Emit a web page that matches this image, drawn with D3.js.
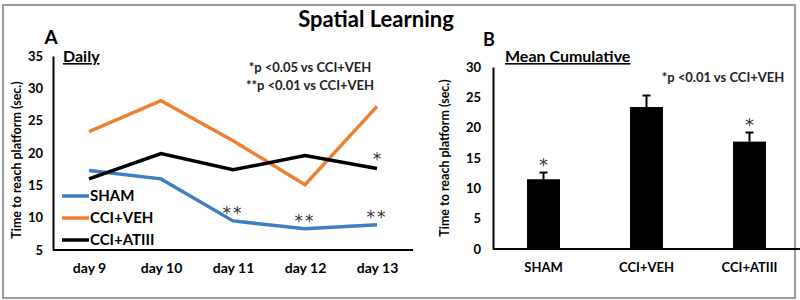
<!DOCTYPE html>
<html>
<head>
<meta charset="utf-8">
<script src="https://cdn.jsdelivr.net/npm/d3@7"></script>
<style>
  body { margin: 0; background: #fff; }
  svg { font-family: Lato, 'Open Sans', sans-serif; }
</style>
</head>
<body>
<div class="chart"></div>
<script>
var W = 800;
var H = 300;

// panel A: daily
var days = ['day 9', 'day 10', 'day 11', 'day 12', 'day 13'];
var groups = ['SHAM', 'CCI+VEH', 'CCI+ATIII'];
var shamDaily = [17.3, 16.0, 9.5, 8.3, 8.9];
var vehDaily = [23.3, 28.1, 21.9, 15.1, 27.2];
var atiiiDaily = [16.0, 19.9, 17.4, 19.6, 17.6];
var dailyTicks = [5, 10, 15, 20, 25, 30, 35];
var dailyMarks = ['', '', '**', '**', '**'];
var atiiiMarks = ['', '', '', '', '*'];

// panel B: mean cumulative
var meanValues = [11.5, 23.4, 17.7];
var meanErrors = [1.1, 1.9, 1.5];
var meanMarks = ['*', '', '*'];
var meanTicks = [0, 5, 10, 15, 20, 25, 30];

var lineColors = ['#3f7fc1', '#ef7f31', '#000000'];
var starFont = "'DejaVu Sans', sans-serif";

var svg = d3.select('.chart').append('svg').attr('width', W).attr('height', H);

// frame
svg.append('rect')
  .attr('x', 3).attr('y', 5).attr('width', 792).attr('height', 293)
  .attr('fill', 'none').attr('stroke', '#9a9a9a').attr('stroke-width', 2);

svg.append('text')
  .attr('x', 376).attr('y', 27)
  .attr('text-anchor', 'middle')
  .attr('font-size', 22).attr('font-weight', 'bold')
  .text('Spatial Learning');

/* ===== PANEL A ===== */

var xA = d3.scalePoint().domain(days).range([53, 413]).padding(0.5);
var yA = d3.scaleLinear().domain([5, 35]).range([250, 56]);

var gA = svg.append('g');

gA.append('g')
  .attr('transform', 'translate(53,0)')
  .call(d3.axisLeft(yA).tickValues(dailyTicks).tickSize(0).tickPadding(10))
  .call(function (g) {
    g.select('.domain').attr('stroke', '#000').attr('stroke-width', 2);
    g.selectAll('text').attr('font-size', 13).attr('font-weight', 'bold').attr('font-family', 'Lato');
  });

gA.append('g')
  .attr('transform', 'translate(0,250)')
  .call(d3.axisBottom(xA).tickSize(0).tickPadding(13))
  .call(function (g) {
    g.select('.domain').attr('d', 'M53,0H413').attr('stroke', '#000').attr('stroke-width', 2);
    g.selectAll('text').attr('font-size', 14).attr('font-weight', 'bold').attr('font-family', 'Lato');
  });

var series = [shamDaily, vehDaily, atiiiDaily];
var line = d3.line()
  .x(function (d, i) { return xA(days[i]); })
  .y(function (d) { return yA(d); });

series.forEach(function (s, k) {
  gA.append('path')
    .datum(s)
    .attr('d', line)
    .attr('fill', 'none')
    .attr('stroke', lineColors[k])
    .attr('stroke-width', 3.5);
});

gA.selectAll('text.markSham')
  .data(dailyMarks)
  .enter()
  .append('text')
  .attr('class', 'markSham')
  .attr('x', function (d, i) { return xA(days[i]); })
  .attr('y', function (d, i) { return yA(shamDaily[i]) - 2; })
  .attr('text-anchor', 'middle')
  .attr('font-family', starFont)
  .attr('font-size', 17).attr('letter-spacing', 2).attr('fill', '#333')
  .text(function (d) { return d; });

gA.selectAll('text.markAtiii')
  .data(atiiiMarks)
  .enter()
  .append('text')
  .attr('class', 'markAtiii')
  .attr('x', function (d, i) { return xA(days[i]); })
  .attr('y', function (d, i) { return yA(atiiiDaily[i]) - 4; })
  .attr('text-anchor', 'middle')
  .attr('font-family', starFont)
  .attr('font-size', 17).attr('fill', '#333')
  .text(function (d) { return d; });

// legend
var legend = gA.selectAll('g.legend')
  .data(groups)
  .enter()
  .append('g')
  .attr('class', 'legend')
  .attr('transform', function (d, i) { return 'translate(62,' + (196 + i * 22) + ')'; });

legend.append('line')
  .attr('x1', 0).attr('x2', 27)
  .attr('stroke', function (d, i) { return lineColors[i]; })
  .attr('stroke-width', 3.5);

legend.append('text')
  .attr('x', 28).attr('y', 5)
  .attr('font-size', 15).attr('font-weight', 'bold')
  .text(function (d) { return d; });

gA.append('text')
  .attr('x', 51).attr('y', 44)
  .attr('text-anchor', 'middle')
  .attr('font-size', 19).attr('font-weight', 'bold')
  .text('A');

gA.append('text')
  .attr('x', 63).attr('y', 62)
  .attr('font-size', 16).attr('font-weight', 'bold')
  .attr('text-decoration', 'underline')
  .text('Daily');

gA.append('text')
  .attr('x', 310).attr('y', 72)
  .attr('text-anchor', 'middle')
  .attr('font-size', 13).attr('font-weight', 'bold').attr('fill', '#222')
  .text('*p <0.05 vs CCI+VEH');

gA.append('text')
  .attr('x', 310).attr('y', 90)
  .attr('text-anchor', 'middle')
  .attr('font-size', 13).attr('font-weight', 'bold').attr('fill', '#222')
  .text('**p <0.01 vs CCI+VEH');

gA.append('text')
  .attr('transform', 'translate(21,160) rotate(-90)')
  .attr('text-anchor', 'middle')
  .attr('font-size', 12.5).attr('font-weight', 'bold')
  .text('Time to reach platform (sec.)');

/* ===== PANEL B ===== */

var xB = d3.scaleBand().domain(groups).range([492, 801]).paddingInner(0.68).paddingOuter(0.34);
var yB = d3.scaleLinear().domain([0, 30]).range([249, 67]);

var gB = svg.append('g');

gB.append('g')
  .attr('transform', 'translate(493,0)')
  .call(d3.axisLeft(yB).tickValues(meanTicks).tickSize(0).tickPadding(12))
  .call(function (g) {
    g.select('.domain').attr('stroke', '#000').attr('stroke-width', 2);
    g.selectAll('text').attr('font-size', 13).attr('font-weight', 'bold').attr('font-family', 'Lato');
  });

gB.append('g')
  .attr('transform', 'translate(0,249)')
  .call(d3.axisBottom(xB).tickSize(0).tickPadding(14))
  .call(function (g) {
    g.select('.domain').attr('d', 'M493,0H800').attr('stroke', '#000').attr('stroke-width', 2);
    g.selectAll('text').attr('font-size', 13).attr('font-weight', 'bold').attr('font-family', 'Lato');
  });

var bars = gB.selectAll('g.bar')
  .data(meanValues)
  .enter()
  .append('g')
  .attr('class', 'bar');

bars.append('rect')
  .attr('x', function (d, i) { return xB(groups[i]); })
  .attr('y', function (d) { return yB(d); })
  .attr('width', xB.bandwidth())
  .attr('height', function (d) { return yB(0) - yB(d); })
  .attr('fill', '#000');

bars.append('line')
  .attr('x1', function (d, i) { return xB(groups[i]) + xB.bandwidth() / 2; })
  .attr('x2', function (d, i) { return xB(groups[i]) + xB.bandwidth() / 2; })
  .attr('y1', function (d) { return yB(d); })
  .attr('y2', function (d, i) { return yB(d + meanErrors[i]); })
  .attr('stroke', '#000').attr('stroke-width', 2);

bars.append('line')
  .attr('x1', function (d, i) { return xB(groups[i]) + xB.bandwidth() / 2 - 4; })
  .attr('x2', function (d, i) { return xB(groups[i]) + xB.bandwidth() / 2 + 4; })
  .attr('y1', function (d, i) { return yB(d + meanErrors[i]); })
  .attr('y2', function (d, i) { return yB(d + meanErrors[i]); })
  .attr('stroke', '#000').attr('stroke-width', 2);

bars.append('text')
  .attr('x', function (d, i) { return xB(groups[i]) + xB.bandwidth() / 2; })
  .attr('y', function (d, i) { return yB(d + meanErrors[i]) - 2; })
  .attr('text-anchor', 'middle')
  .attr('font-family', starFont)
  .attr('font-size', 18).attr('fill', '#333')
  .text(function (d, i) { return meanMarks[i]; });

gB.append('text')
  .attr('x', 489).attr('y', 46)
  .attr('text-anchor', 'middle')
  .attr('font-size', 18).attr('font-weight', 'bold')
  .text('B');

gB.append('text')
  .attr('x', 505).attr('y', 62)
  .attr('font-size', 16).attr('font-weight', 'bold')
  .attr('text-decoration', 'underline')
  .text('Mean Cumulative');

gB.append('text')
  .attr('x', 723).attr('y', 82)
  .attr('text-anchor', 'middle')
  .attr('font-size', 13).attr('font-weight', 'bold').attr('fill', '#222')
  .text('*p <0.01 vs CCI+VEH');

gB.append('text')
  .attr('transform', 'translate(449,158) rotate(-90)')
  .attr('text-anchor', 'middle')
  .attr('font-size', 12.5).attr('font-weight', 'bold')
  .text('Time to reach platform (sec.)');
</script>
</body>
</html>
